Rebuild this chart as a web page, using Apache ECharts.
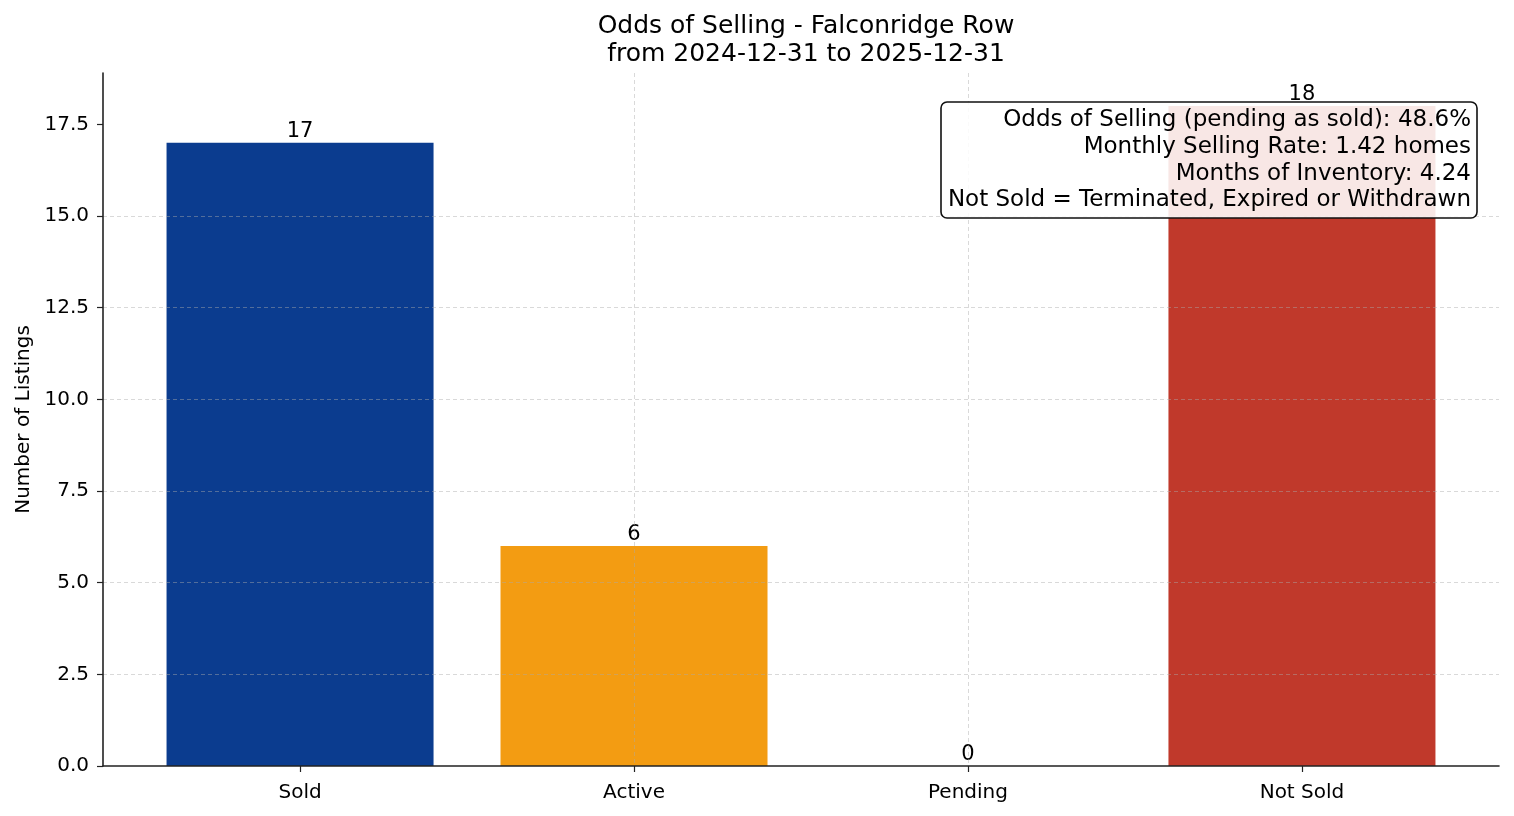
<!DOCTYPE html>
<html>
<head>
<meta charset="utf-8">
<script src="https://cdn.jsdelivr.net/npm/echarts@6/dist/echarts.min.js"></script>
<style>
  html,body{margin:0;padding:0;background:#fff;}
  #chart{width:1514px;height:816px;}
</style>
</head>
<body>
<div id="chart"></div>
<script>
var categories=['Sold','Active','Pending','Not Sold'];
var counts=[17,6,0,18];
var positions=[0,1,2,3];
var yTicks=[0,2.5,5,7.5,10,12.5,15,17.5];
var statLines=[
  'Odds of Selling (pending as sold): 48.6%',
  'Monthly Selling Rate: 1.42 homes',
  'Months of Inventory: 4.24',
  'Not Sold = Terminated, Expired or Withdrawn'
];
var palette=['#0b3c8f','#f39c12','#f39c12','#c0392b'];

var font='DejaVu Sans';

var barData=[];
for (var i=0;i<counts.length;i++) {
  barData.push({value:[positions[i],counts[i]],itemStyle:{color:palette[i]}});
}

var gridLine={show:true,showMinLine:false,showMaxLine:false,lineStyle:{color:'rgba(170,170,170,0.45)',type:[4,3],width:1}};

var option={
  animation:false,
  textStyle:{fontFamily:font},
  title:[{
    text:'Odds of Selling - Falconridge Row\nfrom 2024-12-31 to 2025-12-31',
    left:801,
    top:7,
    textAlign:'center',
    textStyle:{fontFamily:font,fontSize:25,fontWeight:'normal',color:'#000',lineHeight:28}
  },{
    // stats box, right aligned against the box edge
    text:statLines.join('\n'),
    left:1464,
    top:102,
    textAlign:'right',
    z:20,
    padding:[5,6,4,7],
    backgroundColor:'rgba(255,255,255,0.88)',
    borderColor:'#111',
    borderWidth:1.6,
    borderRadius:6,
    textStyle:{fontFamily:font,fontSize:23,fontWeight:'normal',color:'#000',lineHeight:26.7}
  }],
  grid:{left:103,right:15,top:73,bottom:50},
  xAxis:{
    type:'value',
    min:-0.59,
    max:3.59,
    z:5,
    axisLine:{show:true,onZero:false,lineStyle:{color:'#222',width:1.6}},
    axisTick:{show:true,length:6,customValues:positions,lineStyle:{color:'#222',width:1.2}},
    axisLabel:{
      customValues:positions,
      margin:17,
      fontSize:20,
      color:'#000',
      fontFamily:font,
      formatter:function(v){return categories[Math.round(v)];}
    },
    splitLine:gridLine
  },
  yAxis:{
    type:'value',
    min:0,
    max:18.9,
    interval:2.5,
    z:5,
    name:'Number of Listings',
    nameLocation:'middle',
    nameGap:69,
    nameTextStyle:{fontFamily:font,fontSize:20,color:'#000'},
    axisLine:{show:true,onZero:false,lineStyle:{color:'#222',width:1.6}},
    axisTick:{show:true,length:6,customValues:yTicks,lineStyle:{color:'#222',width:1.2}},
    axisLabel:{
      customValues:yTicks,
      fontSize:20,
      color:'#000',
      margin:14,
      fontFamily:font,
      formatter:function(v){return v.toFixed(1);}
    },
    splitLine:gridLine
  },
  series:[{
    type:'bar',
    data:barData,
    barWidth:267,
    label:{
      show:true,
      position:'top',
      distance:1,
      fontSize:21,
      color:'#000',
      fontFamily:font,
      formatter:function(p){return p.value[1];}
    }
  }]
};

var chart=echarts.init(document.getElementById('chart'));
chart.setOption(option);
</script>
</body>
</html>
